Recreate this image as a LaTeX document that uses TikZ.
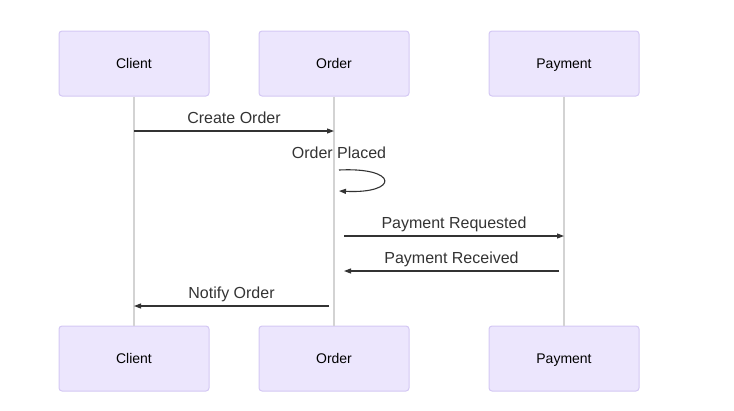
\documentclass[tikz,border=0pt]{standalone}
\usepackage{fontspec}
\setmainfont{Liberation Sans}
\usetikzlibrary{arrows.meta}
\definecolor{actfill}{HTML}{ECE6FD}
\definecolor{actdraw}{HTML}{D4C8F4}
\definecolor{life}{HTML}{D3D3D3}
\definecolor{ink}{HTML}{333333}
\begin{document}
\begin{tikzpicture}[x=1pt,y=-1pt,
  actor/.style={draw=actdraw,fill=actfill,line width=1pt,rounded corners=3pt,minimum width=150pt,minimum height=65pt,inner sep=0pt,font=\fontsize{14}{16}\selectfont,text=black,text height=12pt,text depth=2pt},
  lifeline/.style={draw=life,line width=1.5pt},
  msg/.style={draw=ink,line width=1.1pt,-{Triangle[length=7pt,width=5pt]}},
  lbl/.style={font=\fontsize{16}{18}\selectfont,text=ink,inner sep=0pt,text height=13pt,text depth=3pt}]
\useasboundingbox (0,0) rectangle (734,410);
\node[actor] (c1) at (134,63.5) {Client};
\node[actor] (o1) at (334,63.5) {Order};
\node[actor] (p1) at (564,63.5) {Payment};
\node[actor] (c2) at (134,358.5) {Client};
\node[actor] (o2) at (334,358.5) {Order};
\node[actor] (p2) at (564,358.5) {Payment};
\draw[lifeline] (c1.south) -- (c2.north);
\draw[lifeline] (o1.south) -- (o2.north);
\draw[lifeline] (p1.south) -- (p2.north);
% messages
\coordinate (m1s) at (134,131); \coordinate (m1e) at (334,131);
\draw[msg] (m1s) -- (m1e);
\node[lbl] (l1) at (234,118.5) {Create Order};
\node[lbl] (l2) at (339,153.5) {Order Placed};
\coordinate (s1) at (339,170); \coordinate (s2) at (339,191);
\draw[msg] (s1) .. controls (399,167) and (399,194) .. (s2);
\coordinate (m3s) at (344,236); \coordinate (m3e) at (564,236);
\draw[msg] (m3s) -- (m3e);
\node[lbl] (l3) at (454,223.5) {Payment Requested};
\coordinate (m4s) at (559,271); \coordinate (m4e) at (344,271);
\draw[msg] (m4s) -- (m4e);
\node[lbl] (l4) at (451.5,258.5) {Payment Received};
\coordinate (m5s) at (329,306); \coordinate (m5e) at (134,306);
\draw[msg] (m5s) -- (m5e);
\node[lbl] (l5) at (231.5,293.5) {Notify Order};
\end{tikzpicture}
\end{document}
